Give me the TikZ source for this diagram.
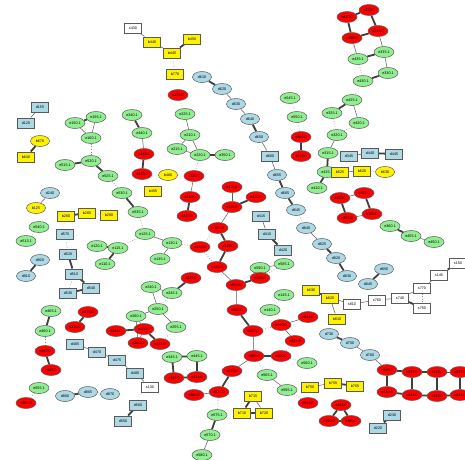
\documentclass[tikz,border=0pt]{standalone}
\usepackage{fontspec}
\setmainfont{Liberation Sans}
\usepackage{tikz}
\usetikzlibrary{shapes.geometric,backgrounds}

\definecolor{grnfill}{RGB}{144,238,144}
\definecolor{blufill}{RGB}{173,216,230}
\definecolor{edgegray}{RGB}{90,90,90}

\tikzset{
	lbl/.style={font=\fontsize{3.7}{4}\selectfont, inner sep=0pt, draw=edgegray, line width=0.5pt},
	grn/.style={lbl, ellipse, fill=grnfill, minimum width=20pt, minimum height=11pt},
	rd/.style={lbl, ellipse, fill=red, minimum width=20pt, minimum height=11pt},
	blu/.style={lbl, ellipse, fill=blufill, minimum width=19pt, minimum height=11pt},
	blubox/.style={lbl, rectangle, fill=blufill, minimum width=17pt, minimum height=10.5pt},
	ylw/.style={lbl, ellipse, fill=yellow, minimum width=19pt, minimum height=11pt},
	ylwbox/.style={lbl, rectangle, fill=yellow, minimum width=17pt, minimum height=10.5pt},
	wbox/.style={lbl, rectangle, fill=white, minimum width=17pt, minimum height=10.5pt},
	lnk/.style={draw=edgegray, line width=0.5pt},
	blk/.style={draw=edgegray!70!black, line width=1.8pt},
	dlk/.style={draw=edgegray!70, dotted, line width=0.6pt}
}

\begin{document}
\begin{tikzpicture}[x=1pt,y=-1pt]
	\useasboundingbox (0,0) rectangle (465,459);

	% left column
	\node[blubox] (d155) at (40,107) {d155};
	\node[blubox] (d120) at (26,123) {d120};
	\node[ylw] (b670) at (40,141) {b670};
	\node[ylwbox] (b640) at (26,157) {b640};
	\node[grn] (e150g) at (75,123) {e150.1};
	\node[grn] (e155g) at (96,117) {e155.1};
	\node[grn] (e160g) at (91,138) {e160.1};
	\node[grn] (e520g) at (91,161) {e520.1};
	\node[grn] (e515g) at (65,165) {e515.1};
	\node[grn] (e525g) at (108,176) {e525.1};
	\node[grn] (e530g) at (122,193) {e530.1};
	\node[grn] (e535g) at (138,212) {e535.1};
	\node[blu] (d240) at (50,193) {d240};
	\node[ylw] (b125) at (36,208) {b125};
	\node[ylwbox] (b260) at (66,216) {b260};
	\node[ylwbox] (b265) at (87,213) {b265};
	\node[ylwbox] (b280) at (109,215) {b280};
	\node[grn] (e540g) at (39,227) {e540.1};
	\node[grn] (e513g) at (26,241) {e513.1};
	\node[blubox] (d570) at (65,234) {d570};
	\node[blubox] (d520) at (68,254) {d520};
	\node[blubox] (d510) at (74,274) {d510};
	\node[blubox] (d540) at (91,288) {d540};
	\node[blubox] (d530) at (68,293) {d530};
	\node[blu] (d920) at (40,260) {d920};
	\node[blu] (d910) at (26,276) {d910};
	\node[grn] (e120g) at (97,246) {e120.1};
	\node[grn] (e115g) at (118,248) {e115.1};
	\node[grn] (e110g) at (105,264) {e110.1};
	\node[grn] (e125g) at (145,234) {e125.1};
	\node[grn] (e130g) at (172,243) {e130.1};
	\node[grn] (e135g) at (160,259) {e135.1};

	% top middle
	\node[wbox] (s430) at (133,28) {s430};
	\node[ylwbox] (b440) at (152,42) {b440};
	\node[ylwbox] (b445) at (172,53) {b445};
	\node[ylwbox] (b450) at (192,39) {b450};
	\node[ylwbox] (b770) at (175,74) {b770};
	\node[rd] (e225r) at (178,95) {e225.0};
	\node[grn] (e225g) at (185,114) {e225.1};
	\node[grn] (e210g) at (190,135) {e210.1};
	\node[grn] (e215g) at (177,149) {e215.1};
	\node[grn] (e220g) at (200,155) {e220.1};
	\node[grn] (e350g) at (225,155) {e350.1};
	\node[grn] (e340g) at (132,115) {e340.1};
	\node[grn] (e440g) at (142,133) {e440.1};
	\node[rd] (e440r) at (144,154) {e440.0};
	\node[rd] (e340r) at (142,174) {e340.0};
	\node[ylw] (b460) at (168,175) {b460};
	\node[ylwbox] (b455) at (153,191) {b455};
	\node[rd] (e220r) at (194,176) {e220.0};
	\node[rd] (e210r) at (190,197) {e210.0};
	\node[rd] (e215r) at (187,216) {e215.0};
	\node[blu] (d610) at (202,77) {d610};
	\node[blu] (d620) at (222,89) {d620};
	\node[blu] (d630) at (236,104) {d630};
	\node[blu] (d640) at (250,119) {d640};
	\node[blu] (d650) at (259,137) {d650};
	\node[blubox] (d660) at (270,156) {d660};
	\node[blu] (d655) at (277,175) {d655};
	\node[blu] (d665) at (285,193) {d665};
	\node[blu] (d645) at (296,210) {d645};
	\node[blu] (d840) at (306,228) {d840};
	\node[blu] (d825) at (322,244) {d825};
	\node[blu] (d820) at (336,258) {d820};
	\node[blu] (d830) at (347,276) {d830};

	% top right
	\node[grn] (e545g) at (290,98) {e545.1};
	\node[grn] (e550g) at (297,117) {e550.1};
	\node[rd] (e550r) at (301,137) {e550.0};
	\node[rd] (e545r) at (301,156) {e545.0};
	\node[rd] (e430r) at (347,17) {e430.0};
	\node[rd] (e330r) at (369,10) {e330.0};
	\node[rd] (e335r) at (378,31) {e335.0};
	\node[rd] (e435r) at (352,38) {e435.0};
	\node[grn] (e435g) at (358,59) {e435.1};
	\node[grn] (e335g) at (384,52) {e335.1};
	\node[grn] (e330g) at (388,73) {e330.1};
	\node[grn] (e430g) at (363,81) {e430.1};
	\node[grn] (e425g) at (352,100) {e425.1};
	\node[grn] (e420g) at (359,123) {e420.1};
	\node[grn] (e325g) at (332,113) {e325.1};
	\node[grn] (e320g) at (337,135) {e320.1};
	\node[grn] (e315g) at (328,153) {e315.1};
	\node[grn] (e415g) at (327,172) {e415.1};
	\node[grn] (e410g) at (317,188) {e410.1};
	\node[blubox] (d345) at (349,156) {d345};
	\node[blubox] (d440) at (370,153) {d440};
	\node[blubox] (d445) at (394,154) {d445};
	\node[ylwbox] (b525) at (340,172) {b525};
	\node[ylwbox] (b620) at (362,171) {b620};
	\node[ylw] (b630) at (385,172) {b630};
	\node[rd] (e450r) at (340,198) {e450.0};
	\node[rd] (e455r) at (364,193) {e455.0};
	\node[rd] (e360r) at (372,214) {e360.0};
	\node[rd] (e355r) at (347,218) {e355.0};
	\node[grn] (e360g) at (390,226) {e360.1};
	\node[grn] (e455g) at (411,236) {e455.1};
	\node[grn] (e450g) at (434,242) {e450.1};
	\node[blu] (d850) at (384,269) {d850};
	\node[blu] (d845) at (368,284) {d845};

	% centre
	\node[rd] (e110r) at (232,187) {e110.0};
	\node[rd] (e120r) at (256,197) {e120.0};
	\node[rd] (e115r) at (232,207) {e115.0};
	\node[rd] (e125r) at (218,228) {e125.0};
	\node[rd] (e130r) at (200,247) {e130.0};
	\node[rd] (e140r) at (228,246) {e140.0};
	\node[rd] (e135r) at (217,267) {e135.0};
	\node[blubox] (d415) at (261,216) {d415};
	\node[blubox] (d410) at (267,234) {d410};
	\node[blubox] (d420) at (283,250) {d420};
	\node[grn] (e590g) at (260,268) {e590.1};
	\node[grn] (e585g) at (284,264) {e585.1};
	\node[rd] (e585r) at (260,278) {e585.0};
	\node[rd] (e590r) at (236,285) {e590.0};
	\node[grn] (e145g) at (284,295) {e145.1};
	\node[rd] (e245r) at (191,278) {e245.0};
	\node[grn] (e240g) at (151,287) {e240.1};
	\node[grn] (e245g) at (172,293) {e245.1};
	\node[grn] (e250g) at (158,309) {e250.1};
	\node[grn] (e260g) at (136,316) {e260.1};
	\node[grn] (e255g) at (176,327) {e255.1};
	\node[rd] (e240r) at (116,331) {e240.0};
	\node[rd] (e250r) at (144,329) {e250.0};
	\node[rd] (e260r) at (138,343) {e260.0};
	\node[rd] (e255r) at (160,344) {e255.0};
	\node[ylwbox] (b830) at (311,290) {b830};
	\node[ylwbox] (b820) at (330,298) {b820};
	\node[ylwbox] (b810) at (337,319) {b810};

	% lower left
	\node[grn] (e465g) at (51,311) {e465.1};
	\node[grn] (e460g) at (45,331) {e460.1};
	\node[rd] (e460r) at (45,351) {e460.0};
	\node[rd] (e465r) at (51,370) {e465.0};
	\node[rd] (e235r) at (88,312) {e235.0};
	\node[rd] (e230r) at (75,327) {e230.0};
	\node[blubox] (d465) at (75,344) {d465};
	\node[blubox] (d470) at (97,352) {d470};
	\node[blubox] (d475) at (117,360) {d475};
	\node[blubox] (d480) at (135,373) {d480};
	\node[wbox] (s130) at (150,387) {s130};
	\node[blubox] (d560) at (138,405) {d560};
	\node[blubox] (d550) at (123,421) {d550};
	\node[grn] (e555g) at (39,388) {e555.1};
	\node[rd] (e555r) at (26,403) {e555.0};
	\node[blu] (d860) at (65,396) {d860};
	\node[blu] (d865) at (88,392) {d865};
	\node[blu] (d870) at (110,394) {d870};
	\node[grn] (e345g) at (172,357) {e345.1};
	\node[grn] (e445g) at (197,356) {e445.1};
	\node[rd] (e345r) at (174,378) {e345.0};
	\node[rd] (e445r) at (197,377) {e445.0};

	% lower middle
	\node[rd] (e570r) at (232,371) {e570.0};
	\node[rd] (e575r) at (219,392) {e575.0};
	\node[rd] (e580r) at (194,395) {e580.0};
	\node[grn] (e575g) at (217,415) {e575.1};
	\node[grn] (e570g) at (210,435) {e570.1};
	\node[grn] (e580g) at (202,455) {e580.1};
	\node[rd] (e620r) at (237,310) {e620.0};
	\node[grn] (e140g) at (270,310) {e140.1};
	\node[rd] (e625r) at (253,331) {e625.0};
	\node[rd] (e630r) at (281,325) {e630.0};
	\node[rd] (e640r) at (308,317) {e640.0};
	\node[rd] (e635r) at (295,341) {e635.0};
	\node[rd] (e565r) at (254,356) {e565.0};
	\node[rd] (e560r) at (281,356) {e560.0};
	\node[grn] (e560g) at (307,363) {e560.1};
	\node[grn] (e565g) at (267,375) {e565.1};
	\node[grn] (e595g) at (287,390) {e595.1};
	\node[rd] (e595r) at (308,403) {e595.0};
	\node[ylwbox] (b715) at (253,396) {b715};
	\node[ylwbox] (b710) at (242,413) {b710};
	\node[ylwbox] (b720) at (264,413) {b720};
	\node[ylwbox] (b750) at (310,387) {b750};
	\node[ylwbox] (b755) at (333,383) {b755};
	\node[ylwbox] (b765) at (355,386) {b765};
	\node[rd] (e155r) at (341,405) {e155.0};
	\node[rd] (e150r) at (329,421) {e150.0};
	\node[rd] (e160r) at (351,421) {e160.0};

	% lower right
	\node[blu] (d730) at (329,334) {d730};
	\node[blu] (d750) at (350,343) {d750};
	\node[blu] (d760) at (370,355) {d760};
	\node[rd] (e310r) at (387,370) {e310.0};
	\node[rd] (e315r) at (412,372) {e315.0};
	\node[rd] (e320r) at (437,372) {e320.0};
	\node[rd] (e325r) at (460,372) {e325.0};
	\node[rd] (e410r) at (387,392) {e410.0};
	\node[rd] (e415r) at (412,395) {e415.0};
	\node[rd] (e420r) at (437,396) {e420.0};
	\node[rd] (e425r) at (460,395) {e425.0};
	\node[blubox] (d230) at (392,415) {d230};
	\node[blubox] (d220) at (378,428) {d220};
	\node[wbox] (s810) at (352,304) {s810};
	\node[wbox] (s760) at (377,300) {s760};
	\node[wbox] (s740) at (400,298) {s740};
	\node[wbox] (s770) at (422,288) {s770};
	\node[wbox] (s750) at (422,308) {s750};
	\node[wbox] (s145) at (439,275) {s145};
	\node[wbox] (s150) at (458,263) {s150};

	\begin{scope}[on background layer]
		% plain links
		\foreach \a/\b in {d155/d120, e150g/e160g, e155g/e160g, d240/b125, s430/b440, b440/b445,
			e225g/e210g, e210g/e215g, e210g/e220g, e215g/e220g, e440g/e440r, d620/d630, d630/d640,
			d650/d660, d660/d655, e320g/e315g, e425g/e420g, e435r/e435g, e335r/e335g, e335g/e330g,
			d345/d440, b525/b620, e450r/e455r, e360r/e355r, e455g/e450g, s145/s770, s770/s740,
			s740/s760, s760/s810, e125g/e130g, e130g/e135g, e220r/e210r, d840/d825, e110r/e115r,
			e115r/e125r, e135r/e590r, d415/d410, e590g/e585g, e240g/e245g, e240g/e250g, e250g/e260g,
			e250g/e255g, e260g/e250r, e260g/e260r, e250r/e260r, d465/d470, d470/d475, d475/d480,
			d480/s130, e575r/e580r, e570g/e580g, e590r/e620r, e630r/e640r, e630r/e635r, e625r/e565r,
			e565r/e570r, e565g/e595g, b715/b720, b750/b755, d750/d760, d760/e310r, e320r/e325r,
			b820/s810, b820/b810}
			\draw[lnk] (\a) -- (\b);
		% heavy links
		\foreach \a/\b in {e150g/e155g, b670/b640, e515g/e520g, e520g/e525g, e530g/e535g, b260/b265,
			d520/d510, d510/d540, d530/d540, d920/d910, e120g/e115g, e115g/e110g, b445/b450,
			e220g/e350g, e340g/e440g, e440r/e340r, d610/d620, d640/d650, e550r/e545r, e430r/e330r,
			e330r/e335r, e335r/e435r, e435r/e430r, e435g/e335g, e330g/e430g, e425g/e325g, d440/d445,
			e315g/e415g, e415g/e410g, e450r/e355r, e455r/e360r, e360g/e455g, d850/d845, s150/s145,
			s740/s750, d655/d665, d665/d645, d825/d820, d820/d830, e210r/e215r, e115r/e120r,
			e125r/e140r, e140r/e135r, d410/d420, e585r/e590r, e245r/e245g, e240r/e250r, e250r/e255r,
			e345g/e445g, e345g/e345r, e445g/e445r, e345r/e445r, d560/d550, e465g/e460g, e460r/e465r,
			e235r/e230r, d860/d865, e570r/e575r, e575g/e570g, e620r/e625r, e565r/e560r, b715/b710,
			b710/b720, b755/b765, d730/d750, e155r/e150r, e155r/e160r, e150r/e160r, e310r/e315r,
			e315r/e320r, e310r/e410r, e315r/e415r, e320r/e420r, e325r/e425r, e410r/e415r,
			e415r/e420r, e420r/e425r, b830/b820, d230/d220}
			\draw[blk] (\a) -- (\b);
		% dotted links
		\foreach \a/\b in {e160g/e520g, e525g/e530g, b265/b280, d570/d520, d510/d530, e540g/e513g,
			b445/b770, e225r/e225g, e545g/e550g, e550g/e550r, e325g/e320g, e320g/e420g, e435g/e430g,
			e430g/e425g, b620/b630, e360r/e360g, s770/s750, e535g/e125g, e125g/e115g, e130g/e130r,
			e220g/e220r, d645/d840, e125r/e130r, e130r/e135r, e590g/e590r, e585r/e585g, e245g/e250g,
			e255g/e255r, e575r/e575g, e460g/e460r, e555g/e555r, d865/d870, e625r/e630r, e635r/e560r,
			e560r/e560g, e565r/e565g, e595g/e595r, e140g/e145g}
			\draw[dlk] (\a) -- (\b);
	\end{scope}
\end{tikzpicture}
\end{document}
